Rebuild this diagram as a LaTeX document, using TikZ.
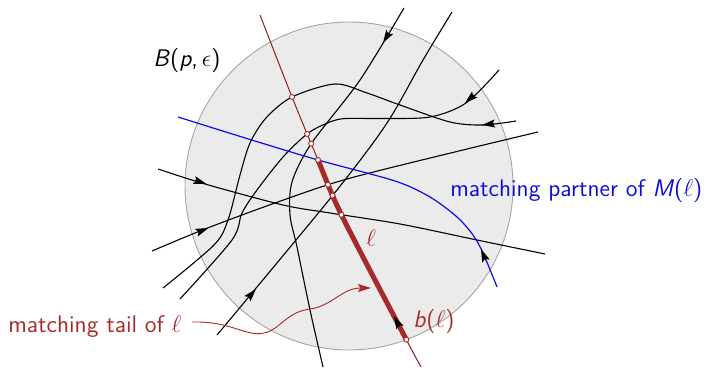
\documentclass[tikz,border=0pt]{standalone}
\usetikzlibrary{arrows.meta,intersections,calc}
\definecolor{ballfill}{RGB}{235,235,235}
\definecolor{balledge}{RGB}{165,165,165}
\definecolor{ellred}{RGB}{165,42,42}
\definecolor{ellthin}{RGB}{140,32,32}
\definecolor{partner}{RGB}{12,12,225}
\tikzset{
  flow/.style={line width=0.55pt, black},
  arrowmark/.style={line width=0.5pt, -{Stealth[length=6.5pt,width=4pt,inset=1.2pt]}},
  mk/.style={circle, draw=ellred, fill=white, line width=0.45pt, inner sep=0pt, minimum size=2.5pt},
  lab/.style={font=\fontsize{12}{14}\selectfont\sffamily, inner sep=0pt},
}
\def\ellpath{plot[smooth] coordinates {(260,15) (292,97) (318,160) (342,216) (406,339) (421,367)}}
\begin{document}
\begin{tikzpicture}[x=0.5pt,y=-0.5pt]
\useasboundingbox (0,0) rectangle (715,368);
% ball
\fill[ballfill] (349,186) circle[radius=164];
\draw[balledge, line width=0.45pt, name path=ball] (349,186) circle[radius=164];
% flow lines
\draw[flow, name path=L1] plot[smooth] coordinates {(404,8) (360,80) (311,144) (292,182) (290,215) (297,247) (310,310) (323,367)};
\draw[flow, name path=L2] plot[smooth] coordinates {(217,335) (252,293) (337,190) (387,123) (423,60) (452,12)};
\draw[flow, name path=L3] plot[smooth] coordinates {(499,70) (466,103) (430,117) (380,118.5) (343,118.7) (325,124) (307,134) (283,157) (257,190) (242,213) (232,240) (180,299)};
\draw[flow, name path=L4] plot[smooth] coordinates {(516,121) (483,125) (450,122) (400,105) (367,93) (335,84) (292,97) (266,118) (250,143) (240,175) (228,220) (214,245) (163,288)};
\draw[flow, name path=H1] plot[smooth] coordinates {(158,169) (205,184) (283,205) (330,213) (400,224) (477,240) (545,254)};
\draw[flow, name path=H2] plot[smooth] coordinates {(152,251) (205,229) (275,203) (347,179) (463,150) (538,132)};
% matching partner
\draw[partner, line width=0.6pt, name path=blue] plot[smooth] coordinates {(497,287) (483,253) (473,235) (457,217) (430,197) (395,181) (318,160) (250,139.5) (178,117)};
% arrow heads on the flow lines
\draw[arrowmark] (389.2,32.7) -- (383,43);
\draw[arrowmark] (248.5,297.5) -- (256,289);
\draw[arrowmark] (474,95.1) -- (465,103);
\draw[arrowmark] (494,123.6) -- (482,125);
\draw[arrowmark] (195,180.3) -- (206.5,184);
\draw[arrowmark] (197.9,232.1) -- (208.5,228);
\draw[arrowmark] (485.6,260.1) -- (481,249);
% the line ell
\draw[ellthin, line width=0.5pt, name path=ell] \ellpath;
\path[name intersections={of=ell and L4, by=x4}];
\path[name intersections={of=ell and L3, by=x3}];
\path[name intersections={of=ell and L1, by=x1}];
\path[name intersections={of=ell and blue, by=xbl}];
\path[name intersections={of=ell and H2, by=xh2}];
\path[name intersections={of=ell and L2, by=x2}];
\path[name intersections={of=ell and H1, by=xh1}];
\path[name intersections={of=ell and ball, sort by=ell, by={xtop,xb}}];
\begin{scope}
  \clip (349,186) circle[radius=164];
  \clip ($(xbl)+(-200,84)$) -- ($(xbl)+(200,-84)$) -- ($(xbl)+(368,316)$) -- ($(xbl)+(-32,484)$) -- cycle;
  \draw[ellred, line width=2.5pt] \ellpath;
\end{scope}
\draw[arrowmark] (399.5,326.6) -- (394,316);
% markers
\node[mk] (m4) at (x4) {};
\node[mk] (m3) at (x3) {};
\node[mk] (m1) at (x1) {};
\node[mk] (mbl) at (xbl) {};
\node[mk] (mh2) at (xh2) {};
\node[mk] (m2) at (x2) {};
\node[mk] (mh1) at (xh1) {};
\node[mk] (mb) at (xb) {};
% labels
\node[lab, anchor=base west] (ballname) at (153,66.5) {\textsl{B}(\textsl{p},\,$\epsilon$)};
\node[lab, anchor=base west, text=partner] (partnerlabel) at (450,197) {matching partner of \textsl{M}($\ell$)};
\node[lab, anchor=base west, text=ellred] (tail) at (8,332) {matching tail of $\ell$};
\node[lab, text=ellred] (elllabel) at (371,238) {$\ell$};
\node[lab, anchor=base west, text=ellred] (blabel) at (413,327) {\textsl{b}($\ell$)};
% tail connector
\coordinate (tailtip) at (371,288);
\draw[ellred, line width=0.45pt, -{Stealth[length=6.5pt,width=4pt,inset=1.2pt]}] ([xshift=5pt,yshift=2pt]tail.east) .. controls (232,321) and (245,337) .. (264,333) .. controls (280,330) and (286,312) .. (310,309) .. controls (332,306) and (342,288) .. (tailtip);
\end{tikzpicture}
\end{document}
